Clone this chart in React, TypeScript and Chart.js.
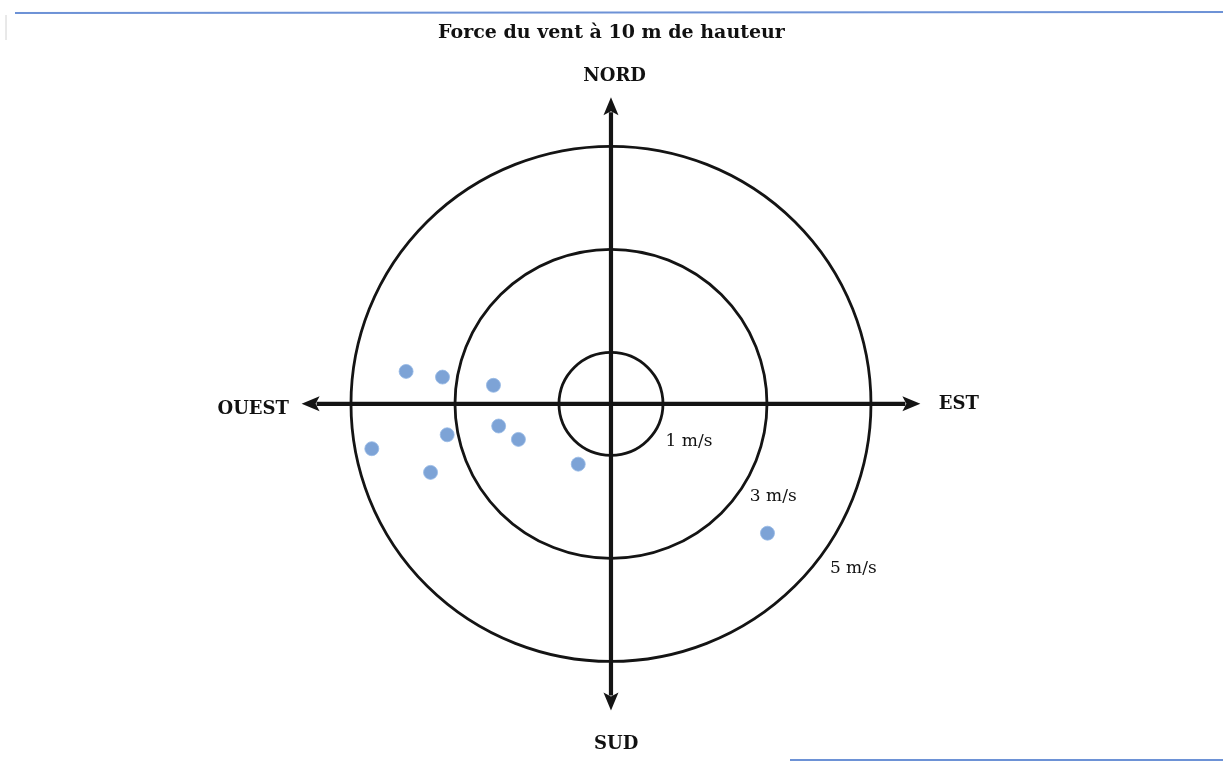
import React, { useEffect, useRef } from "react";
import { Chart, registerables } from "chart.js";

Chart.register(...registerables);

// Wind vectors (m/s) : east component, north component
const windEast = [-3.94, -3.24, -2.26, -2.16, -1.78, -3.15, -4.6, -3.47, -0.63, 3.01];
const windNorth = [0.63, 0.52, 0.36, -0.43, -0.69, -0.6, -0.87, -1.33, -1.17, -2.51];

// Rings of constant wind speed (m/s) and their labels
const ringSpeeds = [1, 3, 5];
const ringLabels = ["1 m/s", "3 m/s", "5 m/s"];
const ringLabelX = [1.5, 3.12, 4.66];
const ringLabelY = [-0.73, -1.79, -3.19];

// Cardinal directions
const directionNames = ["NORD", "SUD", "EST", "OUEST"];
const directionX = [0.07, 0.1, 6.69, -6.88];
const directionY = [6.36, -6.6, 0, -0.1];
const axisExtent = 5.95;

const TITLE = "Force du vent à 10 m de hauteur";

const SERIF = "'DejaVu Serif', 'Liberation Serif', serif";

const compassPlugin = {
  id: "compass",
  beforeDatasetsDraw(chart: any) {
    const { ctx, scales } = chart;
    const xs = scales.x;
    const ys = scales.y;
    const cx = xs.getPixelForValue(0);
    const cy = ys.getPixelForValue(0);
    ctx.save();
    // rings
    ctx.strokeStyle = "#141414";
    ctx.lineWidth = 2.8;
    ringSpeeds.forEach((r) => {
      const rx = Math.abs(xs.getPixelForValue(r) - cx);
      const ry = Math.abs(ys.getPixelForValue(r) - cy);
      ctx.beginPath();
      ctx.ellipse(cx, cy, rx, ry, 0, 0, Math.PI * 2);
      ctx.stroke();
    });
    // axes with arrowheads
    const arrow = (x0: number, y0: number, x1: number, y1: number) => {
      const ang = Math.atan2(y1 - y0, x1 - x0);
      const head = 18;
      const half = 7.5;
      const bx = x1 - head * Math.cos(ang);
      const by = y1 - head * Math.sin(ang);
      ctx.strokeStyle = "#141414";
      ctx.lineWidth = 4.2;
      ctx.beginPath();
      ctx.moveTo(x0, y0);
      ctx.lineTo(bx + 3 * Math.cos(ang), by + 3 * Math.sin(ang));
      ctx.stroke();
      ctx.fillStyle = "#141414";
      ctx.beginPath();
      ctx.moveTo(x1, y1);
      ctx.lineTo(bx - half * Math.sin(ang), by + half * Math.cos(ang));
      ctx.lineTo(bx + 4 * Math.cos(ang), by + 4 * Math.sin(ang));
      ctx.lineTo(bx + half * Math.sin(ang), by - half * Math.cos(ang));
      ctx.closePath();
      ctx.fill();
    };
    arrow(cx, cy, xs.getPixelForValue(axisExtent), cy);
    arrow(cx, cy, xs.getPixelForValue(-axisExtent), cy);
    arrow(cx, cy, cx, ys.getPixelForValue(axisExtent));
    arrow(cx, cy, cx, ys.getPixelForValue(-axisExtent));

    // direction labels
    ctx.fillStyle = "#111";
    ctx.textAlign = "center";
    ctx.textBaseline = "middle";
    ctx.font = `bold 18px ${SERIF}`;
    directionNames.forEach((name, i) => {
      ctx.fillText(name, xs.getPixelForValue(directionX[i]), ys.getPixelForValue(directionY[i]));
    });
    // ring labels
    ctx.font = `17px ${SERIF}`;
    ringLabels.forEach((t, i) => {
      ctx.fillText(t, xs.getPixelForValue(ringLabelX[i]), ys.getPixelForValue(ringLabelY[i]));
    });

    // scanned page edges
    ctx.strokeStyle = "rgba(60,110,200,0.75)";
    ctx.lineWidth = 2;
    ctx.beginPath();
    ctx.moveTo(15, 13);
    ctx.lineTo(chart.width, 12);
    ctx.stroke();
    ctx.beginPath();
    ctx.moveTo(790, 760);
    ctx.lineTo(chart.width, 760);
    ctx.stroke();
    ctx.strokeStyle = "rgba(180,180,180,0.6)";
    ctx.lineWidth = 1;
    ctx.beginPath();
    ctx.moveTo(6, 15);
    ctx.lineTo(6, 40);
    ctx.stroke();
    ctx.restore();
  },
};

export default function App() {
  const canvasRef = useRef<HTMLCanvasElement | null>(null);

  useEffect(() => {
    if (!canvasRef.current) return;
    const chart = new Chart(canvasRef.current, {
      type: "scatter",
      data: {
        datasets: [
          {
            label: "Vent",
            data: windEast.map((x, i) => ({ x, y: windNorth[i] })),
            backgroundColor: "rgba(118,158,212,0.95)",
            borderColor: "rgba(150,185,230,0.8)",
            borderWidth: 1,
            pointRadius: 7,
          },
        ],
      },
      options: {
        animation: false,
        responsive: true,
        maintainAspectRatio: false,
        layout: { padding: 0, autoPadding: false },
        plugins: {
          legend: { display: false },
          tooltip: { enabled: false },
          title: {
            display: true,
            text: TITLE,
            color: "#111",
            font: { family: SERIF, size: 19, weight: "bold" },
            padding: { top: 22, bottom: 0 },
          },
        },
        scales: {
          x: { type: "linear", display: false, min: -11.75, max: 11.77 },
          y: { type: "linear", display: false, min: -7.01, max: 6.97 },
        },
      },
      plugins: [compassPlugin],
    });
    return () => chart.destroy();
  }, []);

  return (
    <div style={{ position: "fixed", left: 0, top: 0, width: 1223, height: 765, background: "#fff" }}>
      <canvas ref={canvasRef} />
    </div>
  );
}
